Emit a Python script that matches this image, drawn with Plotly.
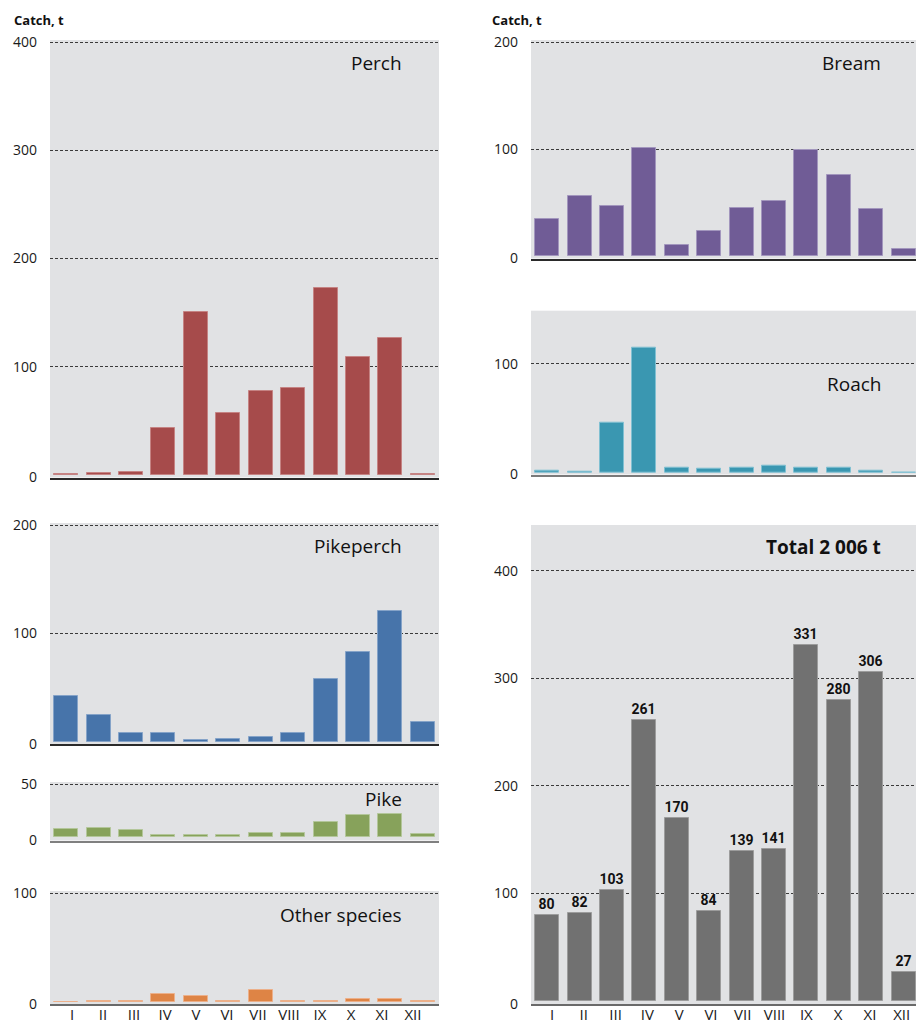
import plotly.graph_objects as go

# Monthly catch by species, tonnes
months = ["I", "II", "III", "IV", "V", "VI", "VII", "VIII", "IX", "X", "XI", "XII"]

perch = [1, 2, 3, 43, 151, 57, 78, 80, 173, 109, 127, 1]
bream = [35, 56, 47, 101, 10, 23, 45, 51, 99, 76, 44, 6.5]
roach = [2, 1, 46, 115, 5, 3.5, 5, 6.5, 5, 5, 1.5, 0]
pikeperch = [42, 25, 8, 8, 1.3, 2.5, 4.6, 8, 58, 83, 121, 18]
pike = [7.8, 9, 6.8, 2.2, 1.9, 2.2, 4, 4, 14, 21, 22, 3.1]
other = [0.5, 1, 1.2, 7.9, 6, 1.2, 11.3, 1.2, 1.5, 2.7, 3, 1]
total = [80, 82, 103, 261, 170, 84, 139, 141, 331, 280, 306, 27]

W, H = 916, 1027
# column: left px, right px, bar axis max, month-label axis range
COLS = {"L": (50, 439, 11.5, [-0.71, 11.84]), "R": (531, 916, 11.38, [-0.66, 11.45])}

# panel layout: column, top px, reference tick (value, px), zero px, axis px,
# grid ticks, fill, outline, axis line colour, title, title position
panels = [
    dict(name="Perch", data=perch, col="L", top=42, ref=(400, 42), zero=475, axis=477.5,
         ticks=[100, 200, 300, 400], fill="#a64b4b", line="#c58383", axc="#2a2a2a",
         tx=404, ty=63),
    dict(name="Pikeperch", data=pikeperch, col="L", top=525, ref=(200, 525), zero=741.7, axis=744,
         ticks=[100, 200], fill="#4774aa", line="#85a3c8", axc="#2a2a2a", tx=404, ty=546),
    dict(name="Pike", data=pike, col="L", top=784, ref=(50, 784), zero=837.3, axis=840.5,
         ticks=[50], fill="#87a25b", line="#b3c69a", axc="#808080", tx=404, ty=799),
    dict(name="Other species", data=other, col="L", top=893, ref=(100, 893), zero=1002.3, axis=1004,
         ticks=[100], fill="#de8445", line="#ecb08a", axc="#6a6a6a", tx=404, ty=915,
         xticks=True),
    dict(name="Bream", data=bream, col="R", top=42, ref=(200, 42), zero=256, axis=258.5,
         ticks=[100, 200], fill="#705c96", line="#a296bd", axc="#2a2a2a", tx=883, ty=63),
    dict(name="Roach", data=roach, col="R", top=310.7, ref=(100, 363.7), zero=472.7, axis=474.5,
         ticks=[100], fill="#3a97b1", line="#80c0d2", axc="#7a7a7a", tx=883, ty=384,
         pad=0),
    dict(name="Total 2 006 t", data=total, col="R", top=525, ref=(400, 570.7), zero=1001, axis=1004,
         ticks=[100, 200, 300, 400], fill="#717171", line="#9c9c9c", axc="#6a6a6a",
         tx=883, ty=547, bold=True, labels=True, xticks=True, pad=0),
]

FONT = "Open Sans, Lato, sans-serif"
COND = "Roboto, Liberation Sans Narrow, sans-serif"

fig = go.Figure()
layout = {}
annotations = []
n = len(panels)
extra = 0

for i, p in enumerate(panels, start=1):
    xa = "x" if i == 1 else f"x{i}"
    ya = "y" if i == 1 else f"y{i}"
    x0, x1, xmax, lab_range = COLS[p["col"]]
    scale = (p["zero"] - p["ref"][1]) / p["ref"][0]
    # keep the top grid line a couple of pixels inside the plotting area
    top_px = p["top"] - p.get("pad", 2)
    ytop = (p["zero"] - top_px) / scale
    ybot = -(p["axis"] - p["zero"]) / scale

    fig.add_trace(go.Bar(
        x=list(range(12)), y=p["data"], xaxis=xa, yaxis=ya, width=0.74,
        marker=dict(color=p["fill"], line=dict(color=p["line"], width=1)),
        texttemplate="<b>%{y}</b>" if p.get("labels") else None,
        textposition="outside" if p.get("labels") else None,
        textfont=dict(family=COND, size=14, color="#111111"),
        constraintext="none",
        cliponaxis=False, showlegend=False, hoverinfo="skip",
    ))

    layout["xaxis" if i == 1 else f"xaxis{i}"] = dict(
        domain=[x0 / W, x1 / W], range=[-0.5, xmax], anchor=ya, automargin=False,
        showgrid=False, zeroline=False, showline=True, linecolor=p["axc"], linewidth=2,
        showticklabels=False, ticks="", fixedrange=True,
    )
    layout["yaxis" if i == 1 else f"yaxis{i}"] = dict(
        domain=[1 - p["axis"] / H, 1 - top_px / H], range=[ybot, ytop], anchor=xa,
        automargin=False, showline=False, zeroline=False, showgrid=True,
        gridcolor="#3a3a3a", gridwidth=1, griddash="3px,2px",
        tickmode="array", tickvals=[ybot] + p["ticks"],
        ticktext=["0"] + [str(t) for t in p["ticks"]],
        ticks="", ticklabelstandoff=12,
        tickfont=dict(family=FONT, size=14, color="#1a1a1a"), fixedrange=True,
    )

    if p.get("xticks"):
        # month labels on their own overlaid axis
        extra += 1
        k = n + extra
        fig.add_trace(go.Scatter(
            x=list(range(12)), y=[0] * 12, xaxis=f"x{k}", yaxis=ya, mode="markers",
            marker=dict(opacity=0), showlegend=False, hoverinfo="skip",
        ))
        layout[f"xaxis{k}"] = dict(
            overlaying=xa, anchor=ya, range=lab_range, automargin=False,
            showgrid=False, zeroline=False, showline=False,
            tickmode="array", tickvals=list(range(12)), ticktext=months,
            ticks="", ticklabelstandoff=0,
            tickfont=dict(family=FONT, size=15, color="#1a1a1a"), fixedrange=True,
        )

    annotations.append(dict(
        text=f"<b>{p['name']}</b>" if p.get("bold") else p["name"],
        xref="paper", yref="paper", x=p["tx"] / W, y=1 - p["ty"] / H,
        xanchor="right", yanchor="middle", showarrow=False,
        font=dict(family=FONT, size=19, color="#111111"),
    ))

for cx in (12, 490):
    annotations.append(dict(
        text="<b>Catch, t</b>", xref="paper", yref="paper", x=cx / W, y=1 - 20 / H,
        xanchor="left", yanchor="middle", showarrow=False,
        font=dict(family=FONT, size=13, color="#111111"),
    ))

fig.update_layout(
    width=W, height=H, margin=dict(l=0, r=0, t=0, b=0, autoexpand=False),
    paper_bgcolor="white", plot_bgcolor="#e1e2e4",
    annotations=annotations, bargap=0, **layout,
)

fig.write_html("out.html", config={"displayModeBar": False})
